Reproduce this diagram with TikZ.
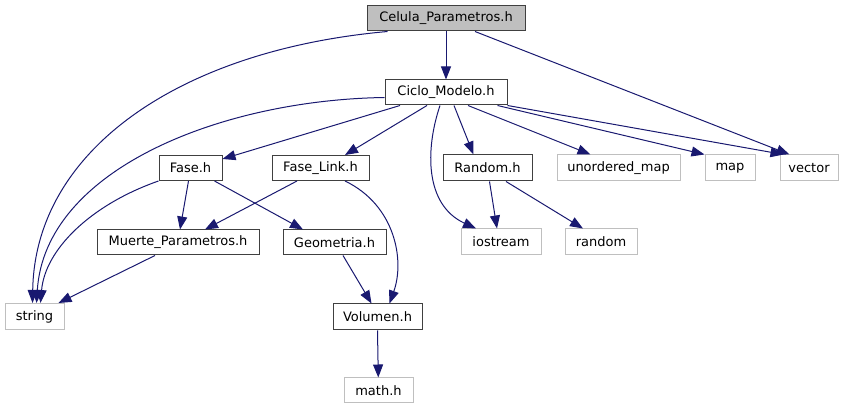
\documentclass[tikz,border=0pt]{standalone}
\usepackage{fontspec}
\setmainfont{DejaVu Sans}
\usetikzlibrary{arrows.meta}
\definecolor{edgec}{HTML}{191970}
\definecolor{sysc}{HTML}{BFBFBF}
\definecolor{hdrc}{HTML}{404040}
\tikzset{
  box/.style={draw, line width=1pt, inner sep=0pt, minimum height=25pt, font=\fontsize{13}{15}\selectfont, text=black},
  hdr/.style={box, draw=hdrc},
  sys/.style={box, draw=sysc},
  root/.style={box, draw=hdrc, fill=sysc},
  edge/.style={draw=edgec, line width=1pt, -{Triangle[length=13pt,width=10pt]}},
}
\begin{document}
\begin{tikzpicture}[x=1pt,y=-1pt]
\useasboundingbox (0,0) rectangle (849,411);
\node[root, minimum width=158pt] (cel) at (446,18.5) {Celula\_Parametros.h};
\node[hdr, minimum width=122pt] (cic) at (446,92.5) {Ciclo\_Modelo.h};
\node[hdr, minimum width=63pt] (fase) at (190.5,168) {Fase.h};
\node[hdr, minimum width=97pt] (fl) at (320.5,168) {Fase\_Link.h};
\node[hdr, minimum width=162pt] (mp) at (178,242.5) {Muerte\_Parametros.h};
\node[sys, minimum width=59pt, minimum height=26pt] (str) at (34.5,316.5) {string};
\node[hdr, minimum width=103pt] (geo) at (334.5,242.5) {Geometria.h};
\node[hdr, minimum width=89pt, minimum height=26pt] (vol) at (377.5,317) {Volumen.h};
\node[sys, minimum width=69pt] (math) at (378.5,390.5) {math.h};
\node[hdr, minimum width=89pt, minimum height=26pt] (rnd) at (487.5,168) {Random.h};
\node[sys, minimum width=123pt, minimum height=26pt] (umap) at (618.5,168) {unordered\_map};
\node[sys, minimum width=50pt, minimum height=26pt] (map) at (730,168) {map};
\node[sys, minimum width=58pt, minimum height=26pt] (vec) at (809,168) {vector};
\node[sys, minimum width=80pt, minimum height=26pt] (io) at (501,242) {iostream};
\node[sys, minimum width=72pt, minimum height=26pt] (rand) at (601,242) {random};

\draw[edge] ([xshift=21pt]cel.south west) .. controls (180,50) and (35,150) .. ([xshift=-2pt]str.north);
\draw[edge] (cel) -- (cic);
\draw[edge] ([xshift=29pt]cel.south) -- ([xshift=10pt]vec.north west);

\draw[edge] ([yshift=-5pt]cic.west) .. controls (220,100) and (45,170) .. ([xshift=2pt]str.north);
\draw[edge] ([xshift=-46pt]cic.south) -- ([yshift=-4pt]fase.north east);
\draw[edge] ([xshift=-19pt]cic.south) -- ([xshift=24.5pt]fl.north);
\draw[edge] ([xshift=-6pt]cic.south) .. controls (425,150) and (425,205) .. ([xshift=-25pt]io.north);
\draw[edge] ([xshift=8pt]cic.south) -- ([xshift=-14pt]rnd.north);
\draw[edge] ([xshift=22pt]cic.south) -- ([xshift=-28pt]umap.north);
\draw[edge] ([xshift=-10pt]cic.south east) -- (map.north west);
\draw[edge] (cic.south east) -- ([xshift=4pt]vec.north west);

\draw[edge] (fase.south west) .. controls (90,205) and (45,250) .. ([xshift=6pt]str.north);
\draw[edge] ([xshift=-2pt]fase.south) -- ([xshift=2pt]mp.north);
\draw[edge] ([xshift=-8pt]fase.south east) -- ([xshift=-31.5pt]geo.north);

\draw[edge] ([xshift=-23.5pt]fl.south) -- ([xshift=27pt]mp.north);
\draw[edge] ([xshift=24.5pt]fl.south) .. controls (395,205) and (405,260) .. ([xshift=12pt]vol.north);

\draw[edge] ([xshift=-23pt]mp.south) -- ([xshift=24pt]str.north);
\draw[edge] ([xshift=8.5pt]geo.south) -- ([xshift=-6pt]vol.north);

\draw[edge] ([xshift=2pt]rnd.south) -- ([xshift=-4pt]io.north);
\draw[edge] ([xshift=18.5pt]rnd.south) -- ([xshift=-18pt]rand.north);

\draw[edge] (vol.south) -- (math);
\end{tikzpicture}
\end{document}
